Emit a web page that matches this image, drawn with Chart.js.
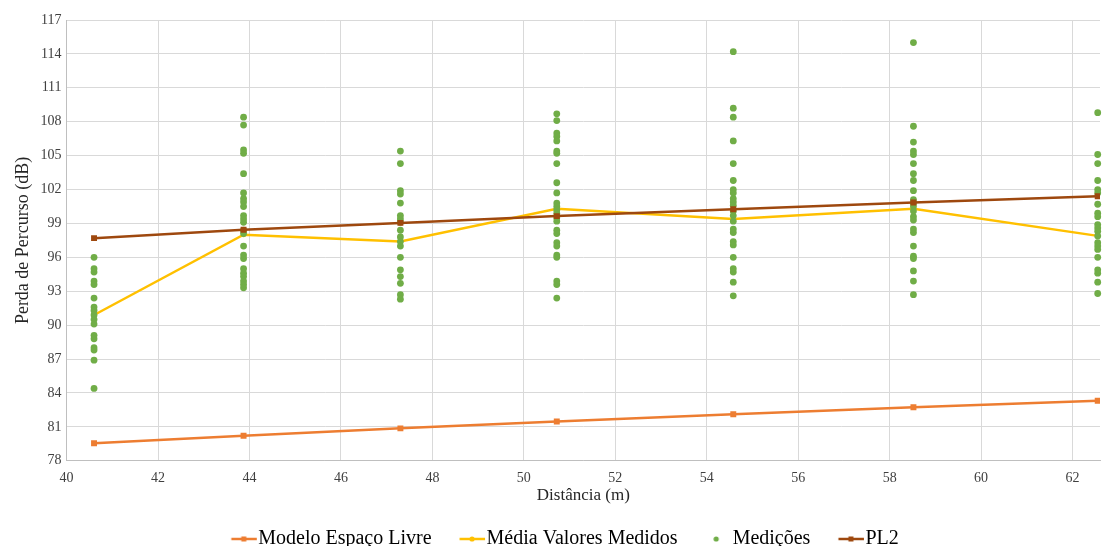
<!DOCTYPE html>
<html>
<head>
<meta charset="utf-8">
<script src="https://cdn.jsdelivr.net/npm/chart.js@4.4.1/dist/chart.umd.min.js"></script>
<style>
  html, body { margin: 0; padding: 0; background: #fff; overflow: hidden; }
  #wrap { width: 1105px; height: 559px; }
</style>
</head>
<body>
<div id="wrap"><canvas id="chart"></canvas></div>
<script>
// distances (m) of the measurement points
const distances = [40.6, 43.87, 47.3, 50.72, 54.58, 58.52, 62.55];

// path loss series (dB)
const modeloEspacoLivre = [79.55, 80.22, 80.87, 81.48, 82.12, 82.73, 83.31];
const mediaValoresMedidos = [90.9, 98.0, 97.4, 100.3, 99.4, 100.3, 97.9];
const pl2 = [97.7, 98.45, 99.05, 99.65, 100.25, 100.85, 101.4];

// individual measurements, one list per distance
const medicoes = [
  [96.0, 95.0, 94.7, 93.9, 93.6, 92.4, 91.6, 91.3, 90.9, 90.5, 90.1, 89.1, 88.8, 88.0, 87.8, 86.9, 84.4],
  [108.4, 107.7, 105.5, 105.2, 103.4, 101.7, 101.2, 100.9, 100.5, 99.7, 99.4, 99.1, 98.4, 98.1, 97.0, 96.2, 95.9, 95.0, 94.6, 94.3, 93.9, 93.6, 93.3],
  [105.4, 104.3, 101.9, 101.6, 100.8, 99.7, 99.4, 99.1, 98.4, 97.8, 97.4, 97.0, 96.0, 94.9, 94.3, 93.7, 92.7, 92.3],
  [108.7, 108.1, 107.0, 106.7, 106.3, 105.4, 105.2, 104.3, 102.6, 101.7, 100.8, 100.5, 100.2, 99.9, 99.5, 99.2, 98.4, 98.1, 97.3, 97.0, 96.2, 96.0, 93.9, 93.6, 92.4],
  [114.2, 109.2, 108.4, 106.3, 104.3, 102.8, 102.0, 101.7, 101.2, 100.9, 100.6, 100.1, 99.7, 99.2, 98.5, 98.2, 97.4, 97.1, 96.0, 95.0, 94.7, 93.8, 92.6],
  [115.0, 107.6, 106.2, 105.4, 105.1, 104.3, 103.4, 102.8, 101.9, 101.1, 100.8, 100.5, 100.1, 99.6, 99.3, 98.5, 98.2, 97.0, 96.1, 95.9, 94.8, 93.9, 92.7],
  [108.8, 105.1, 104.3, 102.8, 102.0, 101.7, 100.7, 99.9, 99.6, 98.9, 98.6, 98.3, 97.9, 97.3, 97.0, 96.7, 96.0, 94.9, 94.6, 93.8, 92.8]
];

const seriesNames = ["Modelo Espaço Livre", "Média Valores Medidos", "Medições", "PL2"];

const ORANGE = "#ED7D31";
const GOLD = "#FFC000";
const GREEN = "#70AD47";
const BROWN = "#9E480E";
const FONT = "'Liberation Serif', 'Times New Roman', serif";

function pairs(ys) {
  return ys.map((y, i) => ({ x: distances[i], y: y }));
}

const medicoesPoints = [];
medicoes.forEach((col, i) => {
  col.forEach((y) => medicoesPoints.push({ x: distances[i], y: y }));
});

// legend symbols drawn like the Excel ones; the image is centred on the
// legend box, the drawing sits on its right half so it runs up to the text
function legendSymbol(color, marker) {
  const c = document.createElement("canvas");
  c.width = 60;
  c.height = 12;
  const g = c.getContext("2d");
  if (marker !== "dot") {
    g.strokeStyle = color;
    g.lineWidth = 2.5;
    g.beginPath();
    g.moveTo(30.5, 6);
    g.lineTo(56, 6);
    g.stroke();
  }
  g.fillStyle = color;
  if (marker === "square") {
    g.fillRect(40.5, 3.5, 5, 5);
  } else {
    g.beginPath();
    g.arc(marker === "dot" ? 41 : 43, 6, 2.6, 0, Math.PI * 2);
    g.fill();
  }
  return c;
}

const symbols = [
  legendSymbol(ORANGE, "square"),
  legendSymbol(GOLD, "circle"),
  legendSymbol(GREEN, "dot"),
  legendSymbol(BROWN, "square")
];

const ctx = document.getElementById("chart").getContext("2d");

new Chart(ctx, {
  type: "scatter",
  data: {
    datasets: [
      {
        label: seriesNames[0],
        type: "line",
        data: pairs(modeloEspacoLivre),
        borderColor: ORANGE,
        backgroundColor: ORANGE,
        borderWidth: 2.5,
        pointStyle: "rect",
        pointRadius: 4.2,
        pointBorderWidth: 0,
        tension: 0,
        order: 3
      },
      {
        label: seriesNames[1],
        type: "line",
        data: pairs(mediaValoresMedidos),
        borderColor: GOLD,
        backgroundColor: GOLD,
        borderWidth: 2.5,
        pointStyle: "circle",
        pointRadius: 2.5,
        pointBorderWidth: 0,
        tension: 0,
        order: 2
      },
      {
        label: seriesNames[2],
        data: medicoesPoints,
        borderColor: GREEN,
        backgroundColor: GREEN,
        pointRadius: 3.4,
        pointBorderWidth: 0,
        clip: false,
        order: 1
      },
      {
        label: seriesNames[3],
        type: "line",
        data: pairs(pl2),
        borderColor: BROWN,
        backgroundColor: BROWN,
        borderWidth: 2.5,
        pointStyle: "rect",
        pointRadius: 4.2,
        pointBorderWidth: 0,
        tension: 0,
        order: 0
      }
    ]
  },
  options: {
    responsive: true,
    maintainAspectRatio: false,
    animation: false,
    layout: { padding: { left: 12, right: 5, top: 20, bottom: 0 } },
    plugins: {
      tooltip: { enabled: false },
      legend: {
        position: "bottom",
        labels: {
          usePointStyle: true,
          pointStyleWidth: 35,
          padding: 10,
          color: "#262626",
          font: { family: FONT, size: 20 },
          generateLabels: (chart) =>
            chart.data.datasets.map((ds, i) => ({
              text: ds.label,
              pointStyle: symbols[i],
              fillStyle: ds.borderColor,
              strokeStyle: ds.borderColor,
              lineWidth: 0,
              hidden: false,
              datasetIndex: i
            }))
        }
      }
    },
    scales: {
      x: {
        type: "linear",
        min: 40,
        max: 62.6,
        ticks: {
          stepSize: 2,
          includeBounds: false,
          color: "#404040",
          font: { family: FONT, size: 14 },
          padding: 9
        },
        grid: { color: "#D9D9D9", lineWidth: 1, drawTicks: false },
        border: { color: "#BFBFBF" },
        title: {
          display: true,
          text: "Distância (m)",
          color: "#262626",
          font: { family: FONT, size: 17 },
          padding: { top: -10, bottom: 13 }
        }
      },
      y: {
        min: 78,
        max: 117,
        ticks: {
          stepSize: 3,
          color: "#404040",
          font: { family: FONT, size: 14 },
          padding: 5
        },
        grid: { color: "#D9D9D9", lineWidth: 1, drawTicks: false },
        border: { color: "#BFBFBF" },
        title: {
          display: true,
          text: "Perda de Percurso (dB)",
          color: "#262626",
          font: { family: FONT, size: 18 },
          padding: { top: 0, bottom: 2 }
        }
      }
    }
  }
});
</script>
</body>
</html>
